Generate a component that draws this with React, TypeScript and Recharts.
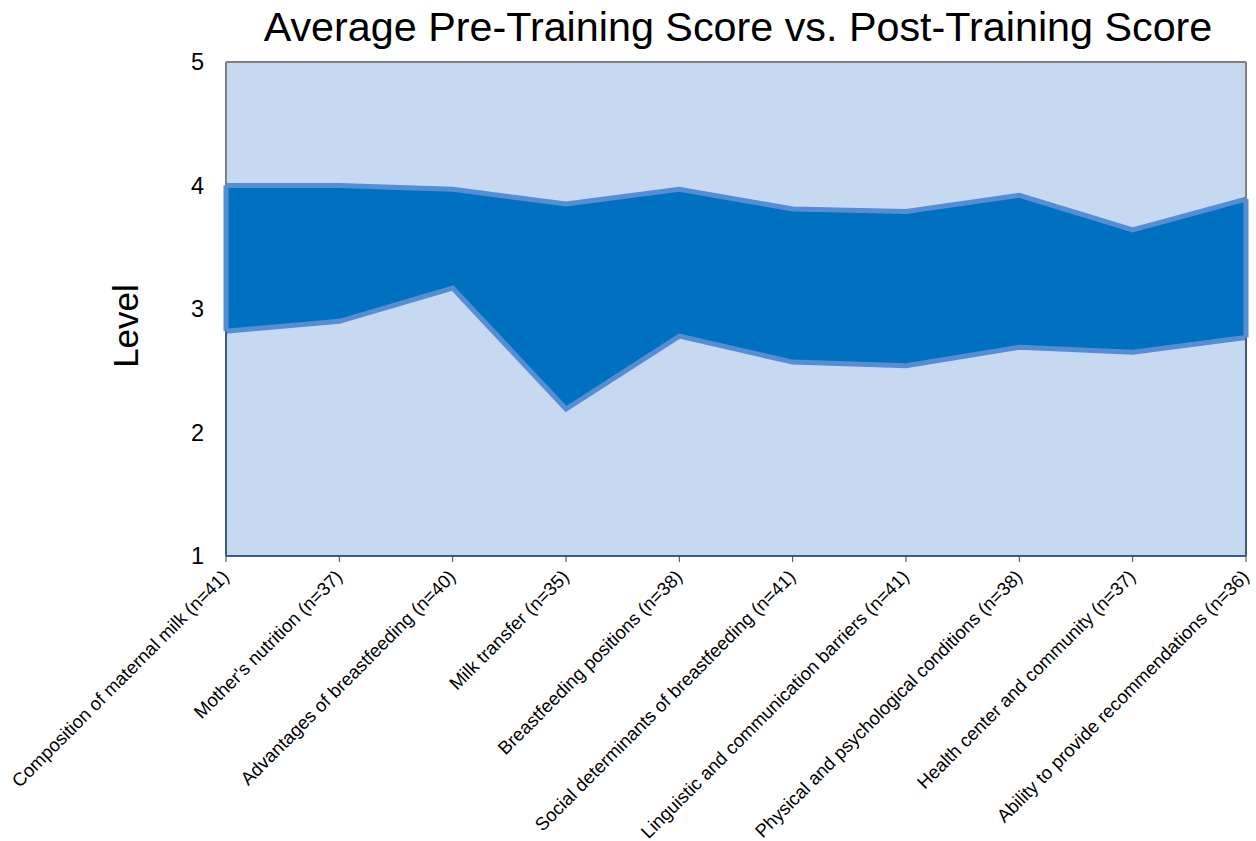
import React from "react";
import {
  ComposedChart,
  Area,
  Line,
  XAxis,
  YAxis,
  CartesianGrid,
  ReferenceLine,
  Label,
} from "recharts";

const categories = [
  "Composition of maternal milk (n=41)",
  "Mother's nutrition (n=37)",
  "Advantages of breastfeeding (n=40)",
  "Milk transfer (n=35)",
  "Breastfeeding positions (n=38)",
  "Social determinants of breastfeeding (n=41)",
  "Linguistic and communication barriers (n=41)",
  "Physical and psychological conditions (n=38)",
  "Health center and community (n=37)",
  "Ability to provide recommendations (n=36)",
];

const preTraining = [2.82, 2.9, 3.17, 2.19, 2.78, 2.57, 2.54, 2.69, 2.65, 2.77];
const postTraining = [4.0, 4.0, 3.97, 3.85, 3.97, 3.81, 3.79, 3.92, 3.64, 3.89];

const yTicks = [1, 2, 3, 4, 5];

const title = "Average Pre-Training Score vs. Post-Training Score";
const yLabel = "Level";

const data = categories.map((name, i) => ({
  name,
  pre: preTraining[i],
  post: postTraining[i],
  range: [preTraining[i], postTraining[i]],
}));

const FONT = "'Liberation Sans', Arial, sans-serif";
const LIGHT = "#C6D9F1";
const DARK = "#0070C0";
const EDGE = "#558ED5";
const NAVY = "#385D8A";
const GRAY = "#808080";

const XTick = (props: any) => {
  const { x, y, payload } = props;
  return (
    <text
      x={0}
      y={0}
      transform={`translate(${x + 4},${y + 14}) rotate(-45)`}
      textAnchor="end"
      fontSize={18.5}
      fontFamily={FONT}
      fill="#000"
    >
      {payload.value}
    </text>
  );
};

const first = categories[0];
const last = categories[categories.length - 1];

export default function App() {
  return (
    <div style={{ position: "absolute", left: 0, top: 0, width: 1256, height: 841 }}>
      <div
        style={{
          position: "absolute",
          left: 228,
          width: 1020,
          top: 7,
          textAlign: "center",
          fontFamily: FONT,
          fontSize: 41.3,
          lineHeight: "40px",
          color: "#000",
          whiteSpace: "nowrap",
        }}
      >
        {title}
      </div>
      <ComposedChart
        width={1256}
        height={841}
        data={data}
        margin={{ top: 62, right: 10, bottom: 0, left: 0 }}
      >
        <CartesianGrid horizontal={false} vertical={false} fill={LIGHT} />
        <XAxis
          dataKey="name"
          type="category"
          scale="point"
          padding={{ left: 0, right: 0 }}
          interval={0}
          height={285}
          tickSize={6}
          tickLine={{ stroke: "#404040" }}
          axisLine={{ stroke: NAVY, strokeWidth: 2 }}
          tick={<XTick />}
        />
        <YAxis
          type="number"
          domain={[1, 5]}
          ticks={yTicks}
          width={226}
          axisLine={false}
          tickLine={false}
          tickSize={0}
          tickMargin={22}
          tick={{ fontSize: 23.5, fill: "#000", fontFamily: FONT }}
        >
          <Label
            content={() => (
              <text
                x={138}
                y={326}
                transform="rotate(-90, 138, 326)"
                textAnchor="middle"
                fontSize={35}
                fontFamily={FONT}
                fill="#000"
              >
                {yLabel}
              </text>
            )}
          />
        </YAxis>
        <Area
          dataKey="range"
          type="linear"
          fill={DARK}
          fillOpacity={1}
          stroke="none"
          isAnimationActive={false}
        />
        <Line
          dataKey="pre"
          type="linear"
          stroke={EDGE}
          strokeWidth={5}
          dot={false}
          activeDot={false}
          isAnimationActive={false}
        />
        <Line
          dataKey="post"
          type="linear"
          stroke={EDGE}
          strokeWidth={5}
          dot={false}
          activeDot={false}
          isAnimationActive={false}
        />
        <ReferenceLine y={5} stroke={GRAY} strokeWidth={2} />
        <ReferenceLine x={first} stroke={GRAY} strokeWidth={2} />
        <ReferenceLine x={last} stroke={GRAY} strokeWidth={2} />
        <ReferenceLine
          segment={[
            { x: first, y: 1 },
            { x: first, y: preTraining[0] },
          ]}
          stroke={NAVY}
          strokeWidth={2}
        />
        <ReferenceLine
          segment={[
            { x: last, y: 1 },
            { x: last, y: preTraining[preTraining.length - 1] },
          ]}
          stroke={NAVY}
          strokeWidth={2}
        />
        <ReferenceLine
          segment={[
            { x: first, y: preTraining[0] },
            { x: first, y: postTraining[0] },
          ]}
          stroke={EDGE}
          strokeWidth={5}
        />
        <ReferenceLine
          segment={[
            { x: last, y: preTraining[preTraining.length - 1] },
            { x: last, y: postTraining[postTraining.length - 1] },
          ]}
          stroke={EDGE}
          strokeWidth={5}
        />
      </ComposedChart>
    </div>
  );
}
